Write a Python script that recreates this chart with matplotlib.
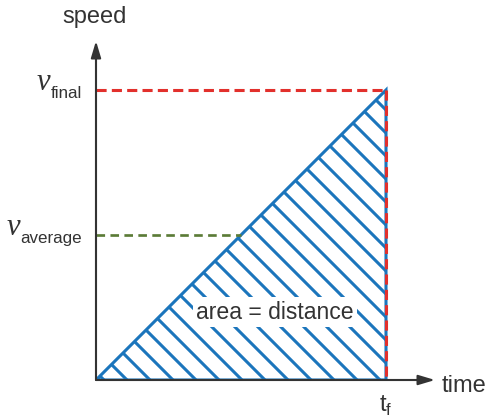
import matplotlib.pyplot as plt

# values (t_f and v_final taken as 1)
t_f = 1.0
v_final = 1.0
v_average = 0.5 * v_final
time = [0, t_f]
speed = [0, v_final]
level_names = ['final', 'average']
level_values = [v_final, v_average]

blue = '#1b75bc'
red = '#e2302c'
green = '#5b7b37'
ink = '#333333'

plt.rcParams['font.family'] = ['Liberation Sans', 'DejaVu Sans']
plt.rcParams['mathtext.fontset'] = 'custom'
plt.rcParams['mathtext.rm'] = 'Liberation Sans'
plt.rcParams['hatch.linewidth'] = 1.6
plt.rcParams['hatch.color'] = blue

DPI = 138
W, H = 486, 418
fig = plt.figure(figsize=(W / DPI, H / DPI), dpi=DPI)
# axes origin sits at pixel (96, 380); one unit = 290 px
ax = fig.add_axes([96 / W, 38 / H, 390 / W, 380 / H])
ax.set_xlim(0, 390 / 290)
ax.set_ylim(0, 380 / 290)
for s in ax.spines.values():
    s.set_visible(False)
ax.set_yticks([])

# hatched triangle = distance
ax.fill_between(time, 0, speed, facecolor='none', edgecolor=blue,
                hatch='\\\\', linewidth=0)
ax.plot([0, t_f, t_f, 0], [0, v_final, 0, 0], color=blue, lw=1.6,
        solid_joinstyle='miter')

# dashed guide lines
ax.plot([0, t_f], [v_final, v_final], color=red, lw=1.6,
        linestyle=(0, (3.3, 1.7)))
ax.plot([t_f, t_f], [v_final, 0], color=red, lw=1.6,
        linestyle=(0, (3.3, 1.7)))
t_avg = t_f * v_average / v_final
ax.plot([0, t_avg], [v_average, v_average], color=green, lw=1.4,
        linestyle=(0, (3.2, 2.0)))

# axes with arrow heads
tip = 1.169
arrow = dict(arrowstyle='-|>,head_length=0.4,head_width=0.12', color=ink,
             lw=1.1, shrinkA=0, shrinkB=0, mutation_scale=18)
ax.annotate('', xy=(tip, 0), xytext=(0, 0), arrowprops=arrow,
            annotation_clip=False)
ax.annotate('', xy=(0, tip), xytext=(0, 0), arrowprops=arrow,
            annotation_clip=False)

ax.annotate('time', xy=(tip, 0), xytext=(7, -12), textcoords='offset pixels',
            ha='left', va='baseline', fontsize=12.3, color=ink,
            annotation_clip=False)
ax.annotate('speed', xy=(0, tip), xytext=(-1, 18), textcoords='offset pixels',
            ha='center', va='baseline', fontsize=12.3, color=ink,
            annotation_clip=False)

ax.set_xticks([t_f], [r'$\mathrm{t}_\mathrm{f}$'])
ax.tick_params(axis='x', length=0, pad=7, labelsize=12.3, labelcolor=ink)

# v labels: subscript first, then the italic v to its left
for name, val in zip(level_names, level_values):
    sub = ax.annotate(name, xy=(0, val), xytext=(-14, -7.5),
                      textcoords='offset pixels', ha='right', va='baseline',
                      fontsize=8.9, color=ink, annotation_clip=False)
    ax.annotate('v', xy=(0, 0), xycoords=sub, xytext=(0, 10.5),
                textcoords='offset pixels', ha='right', va='baseline',
                fontsize=16, family='Liberation Serif', style='italic',
                color=ink, annotation_clip=False)

ax.text(0.617, 0.234, 'area = distance', ha='center', va='center',
        fontsize=12, color=ink,
        bbox=dict(boxstyle='square,pad=0.15', fc='white', ec='none'))

fig.savefig('out.png', dpi=DPI)
